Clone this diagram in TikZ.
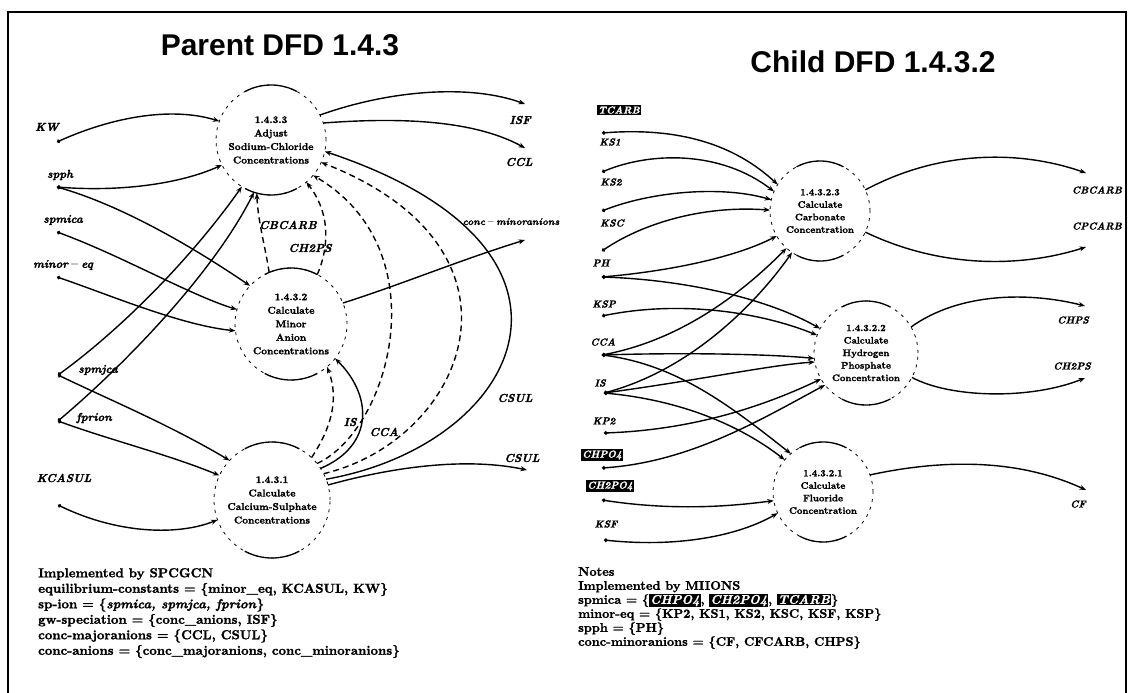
\documentclass[tikz,border=0pt]{standalone}
\usepackage{fontspec}
\setmainfont{lmroman10-regular.otf}[
  BoldFont=lmroman10-bold.otf,
  ItalicFont=lmroman10-italic.otf,
  BoldItalicFont=lmroman10-bolditalic.otf,
  BoldFeatures={FakeBold=1.5},
  BoldItalicFeatures={FakeBold=1.5}]
\newfontfamily\headfont{Liberation Sans}
\usetikzlibrary{arrows.meta}
\newcommand\hlbox[1]{{\setlength{\fboxsep}{1pt}\colorbox{black}{\textcolor{white}{\itshape #1}}}}
\newcommand\lblminus{\,$-$\,}
\begin{document}
\begin{tikzpicture}[x=1pt,y=1pt,
  flow/.style={line width=1.4pt,{Circle[length=3.6pt]}-{Stealth[length=6.5pt,width=5pt]}},
  flowin/.style={line width=1.4pt,-{Stealth[length=6.5pt,width=5pt]}},
  dflow/.style={flowin,dash pattern=on 6pt off 4pt},
  bubble/.style={circle,draw,line width=.8pt,dash pattern=on 3pt off 5pt,inner sep=0pt,outer sep=0pt,align=center,
    font=\fontsize{10}{13.5}\selectfont\bfseries},
  cbubble/.style={bubble,font=\fontsize{9.5}{12.5}\selectfont\bfseries},
  rim/.style={line width=1.3pt},
  plabel/.style={font=\fontsize{11.5}{13}\selectfont\bfseries\itshape,inner sep=1pt},
  clabel/.style={font=\fontsize{10}{12}\selectfont\bfseries\itshape,inner sep=1pt},
  hilite/.style={clabel,fill=black,text=white,inner sep=1.5pt},
  headline/.style={font=\headfont\fontsize{30}{36}\selectfont\bfseries},
  notes/.style={font=\fontsize{13}{15.5}\selectfont\bfseries,align=left,anchor=north west,inner sep=0pt},
]
\useasboundingbox (0,0) rectangle (1133,-693);
% frame
\draw[line width=1.6pt] (8,-693) -- (8,-12) -- (1126,-12) -- (1126,-693);

% ---------------- parent diagram ----------------
\node[headline] (pt) at (280,-45) {Parent DFD 1.4.3};

\node[bubble,minimum size=110pt] (A) at (271,-140) {1.4.3.3\\Adjust\\Sodium-Chloride\\Concentrations};
\node[bubble,minimum size=112pt] (M) at (291,-324) {1.4.3.2\\Calculate\\Minor\\Anion\\Concentrations};
\node[bubble,minimum size=116pt] (C) at (272,-500) {1.4.3.1\\Calculate\\Calcium-Sulphate\\Concentrations};

% inputs
\node[plabel] (kwl) at (47,-127) {KW};
\coordinate (kws) at (57,-142);
\draw[flow] (kws) .. controls (110,-118) and (170,-106) .. (A.160);

\node[plabel] (sphl) at (60,-175) {spph};
\coordinate (sphs) at (57,-187);
\draw[flow] (sphs) .. controls (120,-192) and (180,-184) .. (A.207);
\draw[flow] (sphs) .. controls (120,-205) and (190,-245) .. (M.137);

\node[plabel] (spml) at (63,-220) {spmica};
\coordinate (spms) at (57,-232);
\draw[flow] (spms) .. controls (120,-255) and (190,-295) .. (M.165);

\node[plabel] (mel) at (63,-265) {minor\lblminus eq};
\coordinate (mes) at (57,-277);
\draw[flow] (mes) .. controls (110,-295) and (180,-325) .. (M.187);

\node[plabel] (sjl) at (98,-370) {spmjca};
\coordinate (sjs) at (58,-375);
\draw[flow] (sjs) .. controls (120,-330) and (190,-260) .. (A.238);
\draw[flow] (sjs) .. controls (110,-400) and (170,-425) .. (C.137);

\node[plabel] (fpl) at (94,-418) {fprion};
\coordinate (fps) at (58,-421);
\draw[flow] (fps) .. controls (130,-360) and (215,-270) .. (A.252);
\draw[flow] (fps) .. controls (110,-440) and (170,-455) .. (C.155);

\node[plabel] (kcl) at (64,-478) {KCASUL};
\coordinate (kcs) at (58,-505);
\draw[flow] (kcs) .. controls (120,-535) and (180,-535) .. (C.200);

% outputs
\node[plabel] (isfl) at (520,-120) {ISF};
\coordinate (isfe) at (525,-104);
\draw[flowin] (A.27) .. controls (390,-90) and (470,-84) .. (isfe);

\node[plabel] (ccll) at (519,-162) {CCL};
\coordinate (ccle) at (525,-148);
\draw[flowin] (A.18) .. controls (390,-118) and (470,-118) .. (ccle);

\node[plabel,font=\fontsize{10}{12}\selectfont\bfseries\itshape] (cml) at (511,-222) {conc\lblminus minoranions};
\coordinate (cme) at (525,-240);
\draw[flowin] (M.22) .. controls (400,-285) and (460,-260) .. (cme);

\node[plabel] (csl) at (522,-458) {CSUL};
\coordinate (cse) at (527,-470);
\draw[flowin] (C.15) .. controls (400,-465) and (470,-458) .. (cse);

% flows between the bubbles
\node[plabel] (cs2l) at (515,-398) {CSUL};
\draw[flowin] (C.21) .. controls (520,-445) and (620,-250) .. (A.-12);
\draw[dflow] (C.27) .. controls (465,-440) and (545,-250) .. (A.-24);
\draw[dflow] (C.39) .. controls (390,-430) and (440,-250) .. (A.-40);

\node[plabel] (isl) at (350,-422) {IS};
\draw[dflow] (C.47) .. controls (330,-430) and (340,-400) .. (M.-50);
\node[plabel] (ccal) at (384,-432) {CCA};
\draw[flowin] (C.33) .. controls (375,-445) and (372,-395) .. (M.-38);

\node[plabel] (cbl) at (288,-225) {CBCARB};
\draw[dflow] (M.113) .. controls (266,-250) and (258,-222) .. (A.255);
\node[plabel] (chl) at (310,-248) {CH2PS};
\draw[dflow] (M.62) .. controls (328,-250) and (332,-215) .. (A.-50);

\node[notes] (pn) at (38,-568) {Implemented by SPCGCN\\
equilibrium-constants = \{minor\_eq, KCASUL, KW\}\\
sp-ion = \{\textit{spmica, spmjca, fprion}\}\\
gw-speciation = \{conc\_anions, ISF\}\\
conc-majoranions = \{CCL, CSUL\}\\
conc-anions = \{conc\_majoranions, conc\_minoranions\}};

% ---------------- child diagram ----------------
\node[headline] (ct) at (873,-62) {Child DFD 1.4.3.2};

\node[cbubble,minimum size=100pt] (C3) at (820,-211) {1.4.3.2.3\\Calculate\\Carbonate\\Concentration};
\node[cbubble,minimum size=104pt] (H) at (866,-353) {1.4.3.2.2\\Calculate\\Hydrogen\\Phosphate\\Concentration};
\node[cbubble,minimum size=100pt] (F) at (823,-492) {1.4.3.2.1\\Calculate\\Fluoride\\Concentration};

% inputs
\node[hilite] (tcl) at (619,-110) {TCARB};
\coordinate (tcs) at (602,-133);
\draw[flow] (tcs) .. controls (680,-127) and (735,-145) .. (C3.148);

\node[clabel] (ks1l) at (610,-142) {KS1};
\coordinate (ks1s) at (602,-172);
\draw[flow] (ks1s) .. controls (650,-152) and (720,-150) .. (C3.157);

\node[clabel] (ks2l) at (611,-182) {KS2};
\coordinate (ks2s) at (602,-211);
\draw[flow] (ks2s) .. controls (650,-192) and (720,-185) .. (C3.167);

\node[clabel] (kscl) at (612,-223) {KSC};
\coordinate (kscs) at (602,-251);
\draw[flow] (kscs) .. controls (640,-225) and (700,-205) .. (C3.179);

\node[clabel] (phl) at (601,-263) {PH};
\coordinate (phs) at (602,-277);
\draw[flow] (phs) .. controls (680,-270) and (740,-255) .. (C3.210);
\draw[flow] (phs) .. controls (690,-280) and (770,-300) .. (H.152);

\node[clabel] (kspl) at (604,-304) {KSP};
\coordinate (ksps) at (602,-316);
\draw[flow] (ksps) .. controls (680,-300) and (760,-312) .. (H.160);

\node[clabel] (ccl2) at (603,-342) {CCA};
\coordinate (ccas) at (602,-355);
\draw[flow] (ccas) .. controls (680,-340) and (740,-295) .. (C3.228);
\draw[flow] (ccas) .. controls (700,-352) and (780,-355) .. (H.186);
\draw[flow] (ccas) .. controls (680,-365) and (735,-410) .. (F.130);

\node[clabel] (isl2) at (600,-383) {IS};
\coordinate (iss) at (604,-393);
\draw[flow] (iss) .. controls (690,-370) and (755,-305) .. (C3.236);
\draw[flow] (iss) .. controls (700,-380) and (770,-365) .. (H.190);
\draw[flow] (iss) .. controls (680,-400) and (740,-425) .. (F.140);

\node[clabel] (kp2l) at (604,-421) {KP2};
\coordinate (kp2s) at (604,-433);
\draw[flow] (kp2s) .. controls (690,-430) and (760,-408) .. (H.210);

\node[hilite] (chpl) at (602,-455) {CHPO4};
\coordinate (chps) at (602,-468);
\draw[flow] (chps) .. controls (690,-462) and (760,-420) .. (H.218);

\node[hilite] (ch2l) at (610,-486) {CH2PO4};
\coordinate (ch2s) at (602,-500);
\draw[flow] (ch2s) .. controls (680,-512) and (740,-505) .. (F.190);

\node[clabel] (ksfl) at (606,-524) {KSF};
\coordinate (ksfs) at (604,-540);
\draw[flow] (ksfs) .. controls (680,-548) and (740,-535) .. (F.205);

% outputs
\node[clabel] (cbl2) at (1097,-190) {CBCARB};
\coordinate (cbe) at (1086,-173);
\draw[flowin] (C3.25) .. controls (940,-150) and (1020,-150) .. (cbe);

\node[clabel] (cpl) at (1097,-226) {CPCARB};
\coordinate (cpe) at (1086,-247);
\draw[flowin] (C3.-25) .. controls (940,-268) and (1020,-268) .. (cpe);

\node[clabel] (chpsl) at (1073,-320) {CHPS};
\coordinate (chpe) at (1085,-306);
\draw[flowin] (H.30) .. controls (960,-292) and (1030,-292) .. (chpe);

\node[clabel] (ch2psl) at (1072,-366) {CH2PS};
\coordinate (ch2e) at (1085,-378);
\draw[flowin] (H.-28) .. controls (950,-398) and (1030,-400) .. (ch2e);

\node[clabel] (cfl) at (1078,-504) {CF};
\coordinate (cfe) at (1086,-490);
\draw[flowin] (F.20) .. controls (930,-462) and (1010,-455) .. (cfe);

\node[notes,font=\fontsize{12.5}{14}\selectfont\bfseries] (cn) at (578,-567) {Notes\\
Implemented by MIIONS\\
spmica = \{\hlbox{CHPO4}, \hlbox{CH2PO4}, \hlbox{TCARB}\}\\
minor-eq = \{KP2, KS1, KS2, KSC, KSF, KSP\}\\
spph = \{PH\}\\
conc-minoranions = \{CF, CFCARB, CHPS\}};

% solid rims on the process bubbles
\foreach \n/\r in {A/55,M/56,C/58,C3/50,H/52,F/50}{
  \draw[rim] (\n.118) arc[start angle=118,end angle=62,radius=\r];
  \draw[rim] (\n.242) arc[start angle=242,end angle=298,radius=\r];
}
\end{tikzpicture}
\end{document}
